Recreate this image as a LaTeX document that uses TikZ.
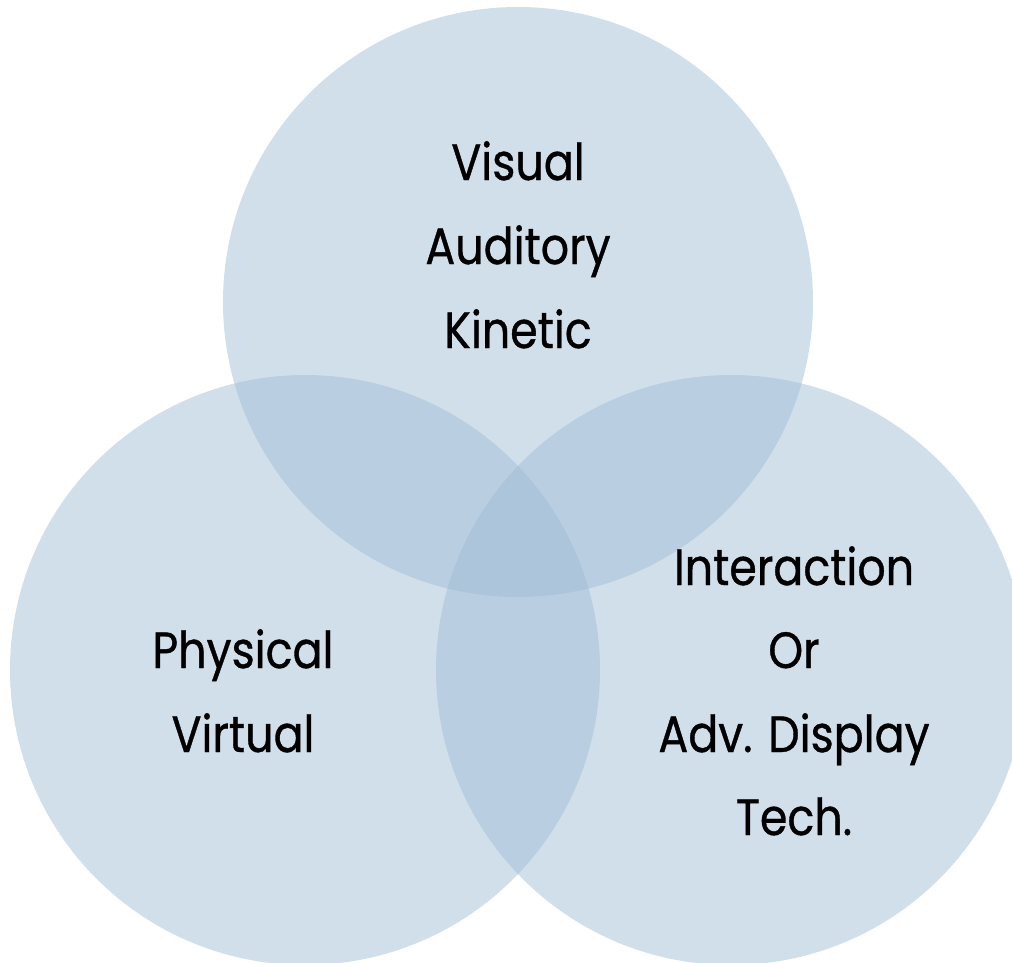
\documentclass[tikz,border=0pt]{standalone}
\usepackage{fontspec}
\setmainfont{Poppins}[FakeStretch=0.87, FakeBold=0.7]
\definecolor{vennfill}{RGB}{159,188,213}
\tikzset{
  venn/.style={fill=vennfill, fill opacity=0.48, draw=none},
  lbl/.style={anchor=base, inner sep=0pt, text=black, font=\fontsize{51}{60}\selectfont}
}
\begin{document}
\begin{tikzpicture}[x=1pt,y=-1pt]
\useasboundingbox (0,0) rectangle (1012,963);
\clip (0,0) rectangle (1012,963);
\fill[venn] (518,302) circle[radius=295];
\fill[venn] (305,670) circle[radius=295];
\fill[venn] (731,670) circle[radius=295];
\node[lbl] (t1) at (518,180) {Visual};
\node[lbl] (t2) at (518,264) {Auditory};
\node[lbl] (t3) at (518,348) {Kinetic};
\node[lbl] (l1) at (243,668) {Physical};
\node[lbl] (l2) at (243,752) {Virtual};
\node[lbl] (r1) at (794,585) {Interaction};
\node[lbl] (r2) at (794,668) {Or};
\node[lbl] (r3) at (794,752) {Adv. Display};
\node[lbl] (r4) at (794,835) {Tech.};
\end{tikzpicture}
\end{document}
